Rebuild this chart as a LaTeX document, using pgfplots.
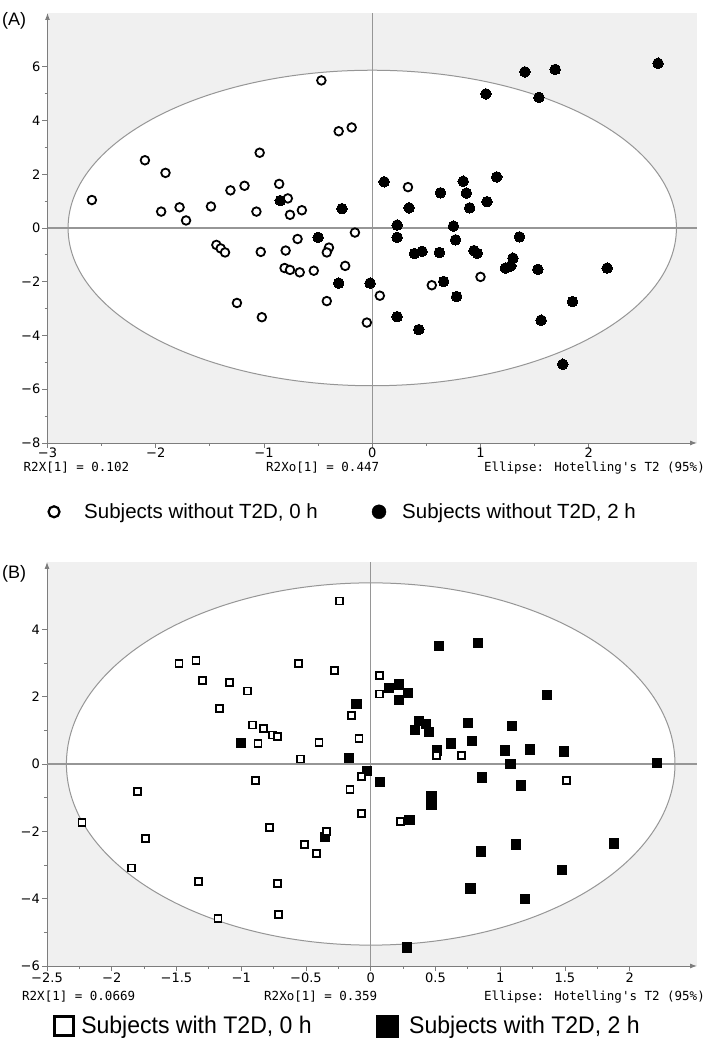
\documentclass[border=0pt]{standalone}
\usepackage{fontspec}
\setmainfont{Liberation Sans}
\newfontfamily\tickfont{DejaVu Sans}
\newfontfamily\annfont{DejaVu Sans Mono}
\newfontfamily\legBfont{Liberation Sans}[FakeStretch=0.96]
\usepackage{pgfplots}
\pgfplotsset{compat=1.18}
\usetikzlibrary{arrows.meta}
\definecolor{bgc}{RGB}{240,240,240}
\definecolor{elc}{RGB}{150,150,150}
\definecolor{axc}{RGB}{125,125,125}

\pgfplotsset{
  myaxis/.style={
    scale only axis, enlargelimits=false,
    axis lines=left,
    axis line style={draw=axc, line width=0.9pt},
    x axis line style={-{Latex[length=7pt,width=5pt]}},
    y axis line style={-{Latex[length=7pt,width=5pt]}},
    axis background/.style={fill=bgc},
    tick align=outside,
    major tick length=5pt, minor tick length=3pt,
    every tick/.style={draw=axc, line width=0.8pt},
    minor tick num=1,
    tick label style={font=\tickfont\fontsize{13}{15}\selectfont, inner sep=0pt},
    clip=false,
    legend columns=2,
    legend style={draw=none, fill=none, inner sep=0pt, outer sep=0pt,
      nodes={inner sep=0pt, outer sep=0pt}, column sep=0pt},
  }
}

\begin{document}
\begin{tikzpicture}
\path[use as bounding box] (0pt,0pt) rectangle (709pt,1041pt);

% ---------------- Panel A ----------------
\begin{axis}[myaxis,
  at={(47.5pt,598pt)}, anchor=south west,
  width=649.5pt, height=430pt,
  xmin=-3, xmax=3, ymin=-8, ymax=8,
  xtick={-3,-2,-1,0,1,2},
  xticklabels={−3,−2,−1,0,1,2},
  ytick={-8,-6,-4,-2,0,2,4,6},
  yticklabels={−8,−6,−4,−2,0,2,4,6},
  xticklabel style={yshift=0pt},
  yticklabel style={xshift=-2pt},
  legend style={at={(axis description cs:-0.001,-0.160)}, anchor=west,
    font=\fontsize{20.5}{24}\selectfont},
]
\fill[white] (axis cs:0,0) ellipse [x radius=2.81, y radius=5.87];
\draw[elc, line width=1pt] (axis cs:0,0) ellipse [x radius=2.81, y radius=5.87];
\draw[elc, line width=1.1pt] (axis cs:0,-8) -- (axis cs:0,8);
\draw[elc, line width=1.1pt] (axis cs:-3,0) -- (axis cs:3,0);

\addplot[only marks, mark=*, mark size=4.3pt,
  mark options={draw=black, fill=white, line width=1.8pt},
  legend image code/.code={\draw[black, fill=white, line width=2.2pt] (7pt,0pt) circle (5.5pt); \path (0pt,-7pt) (37pt,7pt);}]
coordinates {
(-0.47,5.49) (-0.31,3.60) (-0.19,3.74) (-1.04,2.80) (-2.10,2.52) (-1.91,2.05)
(-2.59,1.04) (-1.95,0.61) (-1.78,0.77) (-1.72,0.28) (-1.49,0.80) (-1.31,1.40)
(-1.18,1.57) (-1.07,0.61) (-0.86,1.64) (-0.78,1.10) (-0.76,0.49) (-0.65,0.66)
(-0.16,-0.17) (0.33,1.52) (-1.44,-0.63) (-1.40,-0.76) (-1.36,-0.91) (-1.03,-0.89)
(-0.80,-0.84) (-0.69,-0.41) (-0.40,-0.73) (-0.42,-0.91) (-0.81,-1.49) (-0.76,-1.56)
(-0.67,-1.65) (-0.54,-1.59) (-0.25,-1.41) (0.55,-2.13) (1.00,-1.82) (0.07,-2.52)
(-1.25,-2.79) (-0.42,-2.72) (-1.02,-3.32) (-0.05,-3.52)
};
\addlegendentry{Subjects without T2D, 0 h\rule{54pt}{0pt}}

\addplot[only marks, mark=*, mark size=5.3pt,
  mark options={draw=black, fill=black, line width=0pt},
  legend image code/.code={\fill[black] (7pt,0pt) circle (7pt); \path (0pt,-7pt) (30pt,7pt);}]
coordinates {
(1.41,5.81) (1.69,5.90) (2.64,6.13) (1.05,4.99) (1.54,4.86)
(-0.85,1.02) (-0.28,0.72) (0.11,1.72) (0.34,0.75) (0.63,1.31) (0.84,1.74)
(0.87,1.30) (0.90,0.75) (1.06,0.98) (1.15,1.90) (0.23,0.11) (0.75,0.07)
(-0.50,-0.35) (0.23,-0.35) (0.77,-0.44) (1.36,-0.33) (0.39,-0.95) (0.46,-0.87)
(0.62,-0.91) (0.94,-0.84) (0.97,-0.94) (1.30,-1.12) (1.23,-1.49) (1.28,-1.41)
(1.53,-1.54) (2.17,-1.49) (-0.31,-2.05) (-0.02,-2.05) (0.66,-1.99) (0.78,-2.55)
(1.85,-2.74) (0.23,-3.30) (0.43,-3.78) (1.56,-3.43) (1.76,-5.07)
};
\addlegendentry{Subjects without T2D, 2 h}
\end{axis}

% ---------------- Panel B ----------------
\begin{axis}[myaxis,
  at={(47pt,75pt)}, anchor=south west,
  width=650pt, height=404pt,
  xmin=-2.5, xmax=2.52, ymin=-6, ymax=6,
  xtick={-2.5,-2,-1.5,-1,-0.5,0,0.5,1,1.5,2},
  xticklabels={−2.5,−2,−1.5,−1,−0.5,0,0.5,1,1.5,2},
  ytick={-6,-4,-2,0,2,4},
  yticklabels={−6,−4,−2,0,2,4},
  xticklabel style={yshift=-1.5pt},
  yticklabel style={xshift=-2pt},
  legend style={at={(axis description cs:0.009,-0.1485)}, anchor=west,
    font=\legBfont\fontsize{24}{28}\selectfont},
]
\fill[white] (axis cs:0,0) ellipse [x radius=2.35, y radius=5.38];
\draw[elc, line width=1pt] (axis cs:0,0) ellipse [x radius=2.35, y radius=5.38];
\draw[elc, line width=1.1pt] (axis cs:0,-6) -- (axis cs:0,6);
\draw[elc, line width=1.1pt] (axis cs:-2.5,0) -- (axis cs:2.52,0);

\addplot[only marks, mark=square*, mark size=4.6pt,
  mark options={draw=black, fill=black, line width=0pt},
  forget plot]
coordinates {
(0.53,3.50) (0.83,3.60) (0.14,2.26) (0.22,2.36) (0.29,2.11) (0.22,1.89)
(-0.11,1.79) (1.36,2.04) (0.37,1.27) (0.43,1.19) (0.45,0.94) (0.34,1.00)
(0.75,1.22) (1.09,1.14) (0.78,0.69) (0.62,0.61) (0.51,0.40) (1.04,0.40)
(1.23,0.43) (1.49,0.37) (2.21,0.03) (1.08,0.00) (-1.00,0.62) (-0.17,0.17)
(-0.03,-0.20) (0.07,-0.54) (0.86,-0.40) (1.16,-0.64) (0.47,-0.94) (0.47,-1.22)
(0.30,-1.66) (-0.35,-2.17) (1.12,-2.39) (1.88,-2.36) (0.85,-2.60) (1.48,-3.14)
(0.77,-3.70) (1.19,-4.02) (0.28,-5.45)
};

\addplot[only marks, mark=square*, mark size=3.5pt,
  mark options={draw=black, fill=white, line width=1.8pt},
  legend image code/.code={\draw[black, fill=white, line width=3pt] (1.5pt,-9.5pt) rectangle (20.5pt,9.5pt); \path (0pt,-11pt) (28pt,11pt);}]
coordinates {
(-0.24,4.84) (-1.48,2.98) (-1.35,3.08) (-0.56,2.99) (-0.28,2.78) (0.07,2.64)
(-1.30,2.49) (-1.09,2.43) (-0.95,2.17) (-1.17,1.64) (0.07,2.08) (-0.15,1.45)
(0.51,0.25) (0.70,0.25) (-0.91,1.16) (-0.83,1.05) (-0.76,0.86) (-0.72,0.82)
(-0.87,0.61) (-0.40,0.63) (-0.09,0.75) (-0.54,0.15) (-0.07,-0.38) (-0.89,-0.50)
(-0.16,-0.75) (1.51,-0.48) (-1.80,-0.82) (-0.07,-1.46) (0.23,-1.71) (-2.23,-1.73)
(-0.78,-1.89) (-0.34,-2.00) (-1.74,-2.21) (-0.51,-2.38) (-0.42,-2.66) (-1.85,-3.09)
(-1.33,-3.48) (-0.72,-3.55) (-1.18,-4.59) (-0.71,-4.47)
};
\addlegendentry{Subjects with T2D, 0 h\rule{64pt}{0pt}}

\addlegendimage{legend image code/.code={\fill[black] (0pt,-11pt) rectangle (22pt,11pt); \path (0pt,-11pt) (33pt,11pt);}}
\addlegendentry{Subjects with T2D, 2 h}
\end{axis}

% ---------------- Labels and annotations ----------------
\node[anchor=west, inner sep=0pt, font=\fontsize{18}{21}\selectfont] at (2pt,1020pt) {(A)};
\node[anchor=west, inner sep=0pt, font=\fontsize{18}{21}\selectfont] at (2pt,467pt) {(B)};

\node[anchor=base west, inner sep=0pt, font=\annfont\fontsize{12.5}{14}\selectfont] at (23.5pt,569pt) {R2X[1] = 0.102};
\node[anchor=base west, inner sep=0pt, font=\annfont\fontsize{12.5}{14}\selectfont] at (266pt,569pt) {R2Xo[1] = 0.447};
\node[anchor=base east, inner sep=0pt, font=\annfont\fontsize{12.5}{14}\selectfont] at (705pt,569pt) {Ellipse: Hotelling\char"27 s T2 (95\%)};

\node[anchor=base west, inner sep=0pt, font=\annfont\fontsize{12.5}{14}\selectfont] at (22pt,40pt) {R2X[1] = 0.0669};
\node[anchor=base west, inner sep=0pt, font=\annfont\fontsize{12.5}{14}\selectfont] at (264pt,40pt) {R2Xo[1] = 0.359};
\node[anchor=base east, inner sep=0pt, font=\annfont\fontsize{12.5}{14}\selectfont] at (705pt,40pt) {Ellipse: Hotelling\char"27 s T2 (95\%)};
\end{tikzpicture}
\end{document}
